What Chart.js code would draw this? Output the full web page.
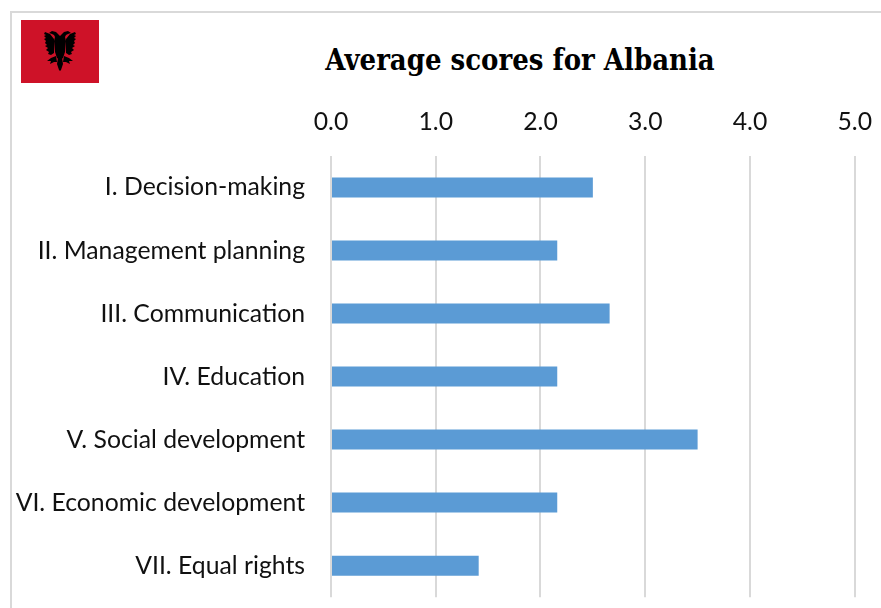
<!DOCTYPE html>
<html>
<head>
<meta charset="utf-8">
<title>Average scores for Albania</title>
<script src="https://cdn.jsdelivr.net/npm/chart.js@4"></script>
<style>
  html, body { margin: 0; padding: 0; background: #fff; }
  #wrap { position: relative; width: 881px; height: 608px; overflow: hidden; }
  #frame { position: absolute; left: 10px; top: 11px; width: 871px; height: 597px;
           border-left: 2px solid #d9d9d9; border-top: 2px solid #d9d9d9; box-sizing: border-box; }
  #flag { position: absolute; left: 21px; top: 20px; width: 78px; height: 63px; }
  #title { position: absolute; left: 220px; width: 600px; top: 40px; text-align: center;
           font: bold 30px "DejaVu Serif", serif; color: #000; line-height: 40px;
           transform: scaleX(0.868); white-space: nowrap; }
  canvas { position: absolute; left: 0; top: 0; }
</style>
</head>
<body>
<div id="wrap">
  <div id="frame"></div>
  <svg id="flag" viewBox="0 0 78 63">
    <rect width="78" height="63" fill="#ce1228"/>
    <g fill="#000">
      <path d="M39 16 L36 13 L35 12 L31 11 L28 13 L31 14 L33 15 L34 17 L33 21 L34 32 L36 38 L39 40 L42 38 L44 32 L45 21 L44 17 L45 15 L47 14 L50 13 L47 11 L43 12 L42 13 Z"/>
      <path d="M33 19 L29 14 L24 12 L23 14 L25 15 L23 16 L25 18 L23 19 L25 21 L24 23 L26 25 L24 26 L27 28 L25 30 L28 32 L27 34 L30 35 L33 33 Z"/>
      <path d="M45 19 L49 14 L54 12 L55 14 L53 15 L55 16 L53 18 L55 19 L53 21 L54 23 L52 25 L54 26 L51 28 L53 30 L50 32 L51 34 L48 35 L45 33 Z"/>
      <path d="M35 36 L30 38 L26 41 L30 41 L29 44 L33 42 L36 42 Z"/>
      <path d="M43 36 L48 38 L52 41 L48 41 L49 44 L45 42 L42 42 Z"/>
      <path d="M37 38 L41 38 L42 44 L41 47 L40 50 L39 51 L38 50 L37 47 L36 44 Z"/>
    </g>
  </svg>
  <div id="title">Average scores for Albania</div>
  <!-- canvas plus grand que la fenetre : Chart.js garde une marge pour les labels -->
  <canvas id="scoresChart" width="891" height="638"></canvas>
</div>
<script>
// Valeurs
const categories = ['I. Decision-making', 'II. Management planning', 'III. Communication', 'IV. Education', 'V. Social development', 'VI. Economic development', 'VII. Equal rights'];
const scores = [2.5, 2.16, 2.66, 2.16, 3.5, 2.16, 1.41];
const axisMin = 0, axisMax = 5, axisStep = 1;

const BLUE = '#5b9bd5', GRID = '#d9d9d9', TEXT = '#111111';
const LABEL_FONT = { family: 'Lato', size: 24.75 };

new Chart(document.getElementById('scoresChart'), {
  type: 'bar',
  data: {
    labels: categories,
    datasets: [{
      data: scores,
      backgroundColor: BLUE,
      categoryPercentage: 1,
      barPercentage: 20 / 63
    }]
  },
  options: {
    indexAxis: 'y',
    responsive: false,
    animation: false,
    plugins: { legend: { display: false }, tooltip: { enabled: false } },
    scales: {
      x: {
        position: 'top',
        min: axisMin, max: axisMax,
        afterFit: s => { s.height = 156; },
        grid: { color: GRID, lineWidth: 2, drawTicks: false },
        border: { display: false },
        ticks: {
          stepSize: axisStep,
          padding: 19,
          maxRotation: 0,
          color: TEXT,
          font: LABEL_FONT,
          callback: v => v.toFixed(1)
        }
      },
      y: {
        afterFit: s => { s.width = 331; },
        grid: { display: false, drawTicks: false },
        border: { display: false },
        ticks: { padding: 26, color: TEXT, font: LABEL_FONT, autoSkip: false }
      }
    }
  }
});
</script>
</body>
</html>
